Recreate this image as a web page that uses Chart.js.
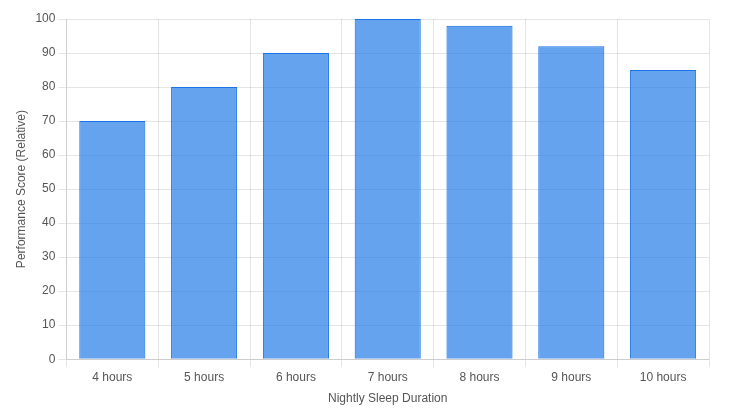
<!DOCTYPE html>
<html><head><script src="https://cdn.jsdelivr.net/npm/chart.js@4"></script>
<style>body{margin:0}#w{width:729px;height:418px}</style></head>
<body><div id="w"><canvas id="c"></canvas></div>
<script>
const categories = ['4 hours', '5 hours', '6 hours', '7 hours', '8 hours', '9 hours', '10 hours']
const scores = [70, 80, 90, 100, 98, 92, 85]

Chart.defaults.font.family = 'Arial, "Liberation Sans", sans-serif'
Chart.defaults.color = '#555'
new Chart(document.getElementById('c'), {
    type: 'bar',
    data: {
        labels: categories,
        datasets: [{
            label: 'Performance',
            data: scores,
            backgroundColor: 'rgba(30,120,232,0.68)',
            borderColor: 'rgb(26,115,232)',
            borderWidth: 1,
            barPercentage: 0.9,
            categoryPercentage: 0.8
        }]
    },
    options: {
        responsive: true,
        maintainAspectRatio: false,
        animation: false,
        layout: { padding: { left: 10, right: 20, top: 19, bottom: 8 } },
        plugins: { legend: { display: false } },
        scales: {
            x: { title: { display: true, text: 'Nightly Sleep Duration' } },
            y: { min: 0, max: 100, ticks: { stepSize: 10 }, title: { display: true, text: 'Performance Score (Relative)' } }
        }
    }
})
</script></body></html>
